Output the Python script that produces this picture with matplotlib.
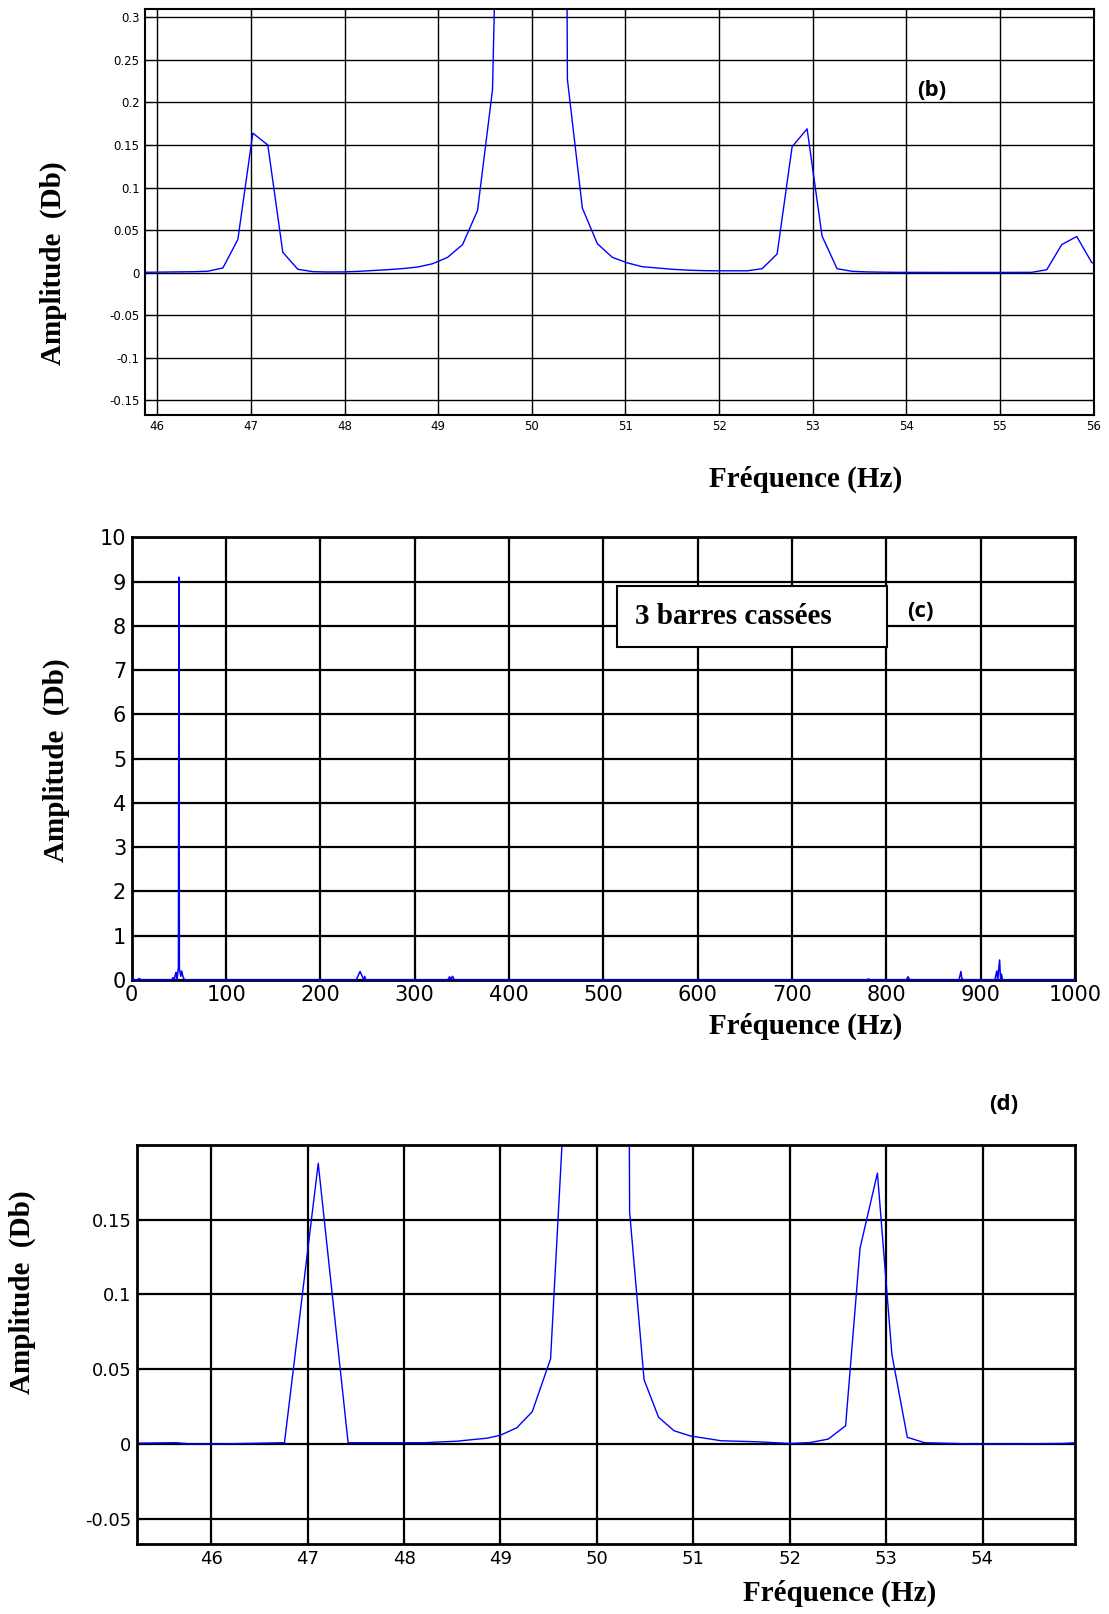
import matplotlib
matplotlib.use("Agg")
import matplotlib.pyplot as plt
from matplotlib.patches import Rectangle

# Panel (b) : zoom autour de 50 Hz
b_freq = [45.74, 45.90, 46.06, 46.22, 46.38, 46.54, 46.70, 46.86, 47.02, 47.18, 47.34,
          47.50, 47.66, 47.82, 47.98, 48.14, 48.30, 48.46, 48.62, 48.78, 48.94, 49.10,
          49.26, 49.42, 49.58, 49.74, 49.90, 50.06, 50.22, 50.38, 50.54, 50.70, 50.86,
          51.02, 51.18, 51.34, 51.50, 51.66, 51.82, 51.98, 52.14, 52.30, 52.46, 52.62,
          52.78, 52.94, 53.10, 53.26, 53.42, 53.58, 53.74, 53.90, 54.50, 55.00, 55.34,
          55.50, 55.66, 55.82, 55.98, 56.14]
b_amp = [0.0003, 0.0005, 0.0007, 0.0009, 0.0011, 0.0017, 0.0055, 0.039, 0.164, 0.150,
         0.024, 0.004, 0.0012, 0.0008, 0.0009, 0.0015, 0.0025, 0.0035, 0.0048, 0.0066,
         0.0105, 0.018, 0.033, 0.073, 0.215, 1.0, 5.0, 9.0, 4.0, 0.227, 0.0757, 0.034,
         0.018, 0.0115, 0.007, 0.0055, 0.004, 0.003, 0.0024, 0.0022, 0.0022, 0.0022,
         0.0047, 0.022, 0.148, 0.169, 0.043, 0.0047, 0.0016, 0.0009, 0.0006, 0.0004,
         0.0003, 0.0003, 0.0004, 0.0035, 0.033, 0.0425, 0.012, 0.005]
b_yticks = [-0.15, -0.1, -0.05, 0, 0.05, 0.1, 0.15, 0.2, 0.25, 0.3]
b_ylabels = ["-0.15", "-0.1", "-0.05", "0", "0.05", "0.1", "0.15", "0.2", "0.25", "0.3"]
b_xticks = [46, 47, 48, 49, 50, 51, 52, 53, 54, 55, 56]

# Panel (c) : spectre complet, 3 barres cassées
c_freq = [0, 6, 8, 10, 42, 44, 45, 46, 47, 48, 49.5, 50, 50.5, 52, 53, 54, 55, 57,
          238, 242, 246, 247, 248, 335, 337, 338, 340, 342, 779, 781, 783,
          821, 823, 824, 826, 877, 879, 880, 882, 915, 917, 918, 920, 921, 922, 923, 1000]
c_amp = [0, 0, 0.03, 0, 0, 0.05, 0, 0.1, 0.17, 0, 0.3, 9.1, 0.25, 0.08, 0.2, 0.1, 0.03, 0,
         0, 0.19, 0, 0.08, 0, 0, 0.07, 0, 0.08, 0, 0, 0.02, 0,
         0, 0.07, 0.02, 0, 0, 0.19, 0.03, 0, 0, 0.2, 0, 0.45, 0, 0.13, 0, 0]

# Panel (d) : zoom autour de 50 Hz
d_freq = [45.24, 45.64, 45.81, 46.20, 46.76, 47.11, 47.42, 48.22, 48.37, 48.55, 48.70,
          48.86, 49.00, 49.17, 49.33, 49.52, 49.68, 49.84, 50.00, 50.16, 50.34, 50.49,
          50.64, 50.80, 50.97, 51.29, 51.67, 52.00, 52.21, 52.40, 52.58, 52.73, 52.91,
          53.06, 53.22, 53.40, 54.00, 54.83, 54.98]
d_amp = [0.0007, 0.001, 0.0, 0.0003, 0.001, 0.1875, 0.001, 0.001, 0.0015, 0.002, 0.003,
         0.004, 0.006, 0.011, 0.0217, 0.057, 0.25, 2.5, 9.0, 3.0, 0.155, 0.043, 0.018,
         0.009, 0.0055, 0.0023, 0.0016, 0.0005, 0.0011, 0.0034, 0.0123, 0.131, 0.181,
         0.060, 0.0046, 0.001, 0.0, 0.0005, 0.001]
d_yticks = [-0.05, 0, 0.05, 0.1, 0.15]
d_ylabels = ["-0.05", "0", "0.05", "0.1", "0.15"]
d_xticks = [46, 47, 48, 49, 50, 51, 52, 53, 54]

serif = ["Liberation Serif", "DejaVu Serif"]
lab_font = dict(family=serif, fontweight="bold", fontsize=21)
tag_font = dict(family=["Open Sans", "DejaVu Sans"], fontweight="bold", fontsize=16)

fig = plt.figure(figsize=(11.09, 16.14), dpi=100)


def style(ax, grid_lw, spine_lw, tick_size):
    ax.grid(True, color="black", linewidth=grid_lw, linestyle="-")
    ax.set_axisbelow(True)
    for s in ax.spines.values():
        s.set_linewidth(spine_lw)
    ax.tick_params(direction="in", top=True, right=True, length=4,
                   labelsize=tick_size, pad=4)


# (b)
ax1 = fig.add_axes([0.1309, 0.7430, 0.8552, 0.2513])
ax1.plot(b_freq, b_amp, color="#0000ff", linewidth=1.0)
ax1.set_xlim(45.87, 56.0)
ax1.set_ylim(-0.167, 0.3096)
ax1.set_yticks(b_yticks)
ax1.set_yticklabels(b_ylabels)
ax1.set_xticks(b_xticks)
style(ax1, 1.0, 1.5, 8.5)
fig.text(0.048, 0.837, "Amplitude  (Db)", rotation=90, ha="center", va="center", **lab_font)
fig.text(0.726, 0.7028, "Fréquence (Hz)", ha="center", va="center", **lab_font)
fig.text(0.840, 0.9439, "(b)", ha="center", va="center", **tag_font)

# (c)
ax2 = fig.add_axes([0.1188, 0.3929, 0.8506, 0.2742])
ax2.plot(c_freq, c_amp, color="#0000ff", linewidth=1.1, zorder=3, clip_on=False)
ax2.set_xlim(0, 1000)
ax2.set_ylim(0, 10)
ax2.set_xticks(range(0, 1001, 100))
ax2.set_yticks(range(0, 11))
style(ax2, 1.6, 2.0, 15)
ax2.add_patch(Rectangle((514, 7.53), 287, 1.37, facecolor="white", edgecolor="black",
                        linewidth=1.5, zorder=4))
ax2.text(533, 8.2, "3 barres cassées", ha="left", va="center", zorder=5, **lab_font)
fig.text(0.726, 0.3642, "Fréquence (Hz)", ha="center", va="center", **lab_font)
fig.text(0.051, 0.5293, "Amplitude  (Db)", rotation=90, ha="center", va="center", **lab_font)
fig.text(0.830, 0.6212, "(c)", ha="center", va="center", **tag_font)

# (d)
ax3 = fig.add_axes([0.1235, 0.0434, 0.8459, 0.2474])
ax3.plot(d_freq, d_amp, color="#0000ff", linewidth=1.0)
ax3.set_xlim(45.23, 54.96)
ax3.set_ylim(-0.0666, 0.2)
ax3.set_yticks(d_yticks)
ax3.set_yticklabels(d_ylabels)
ax3.set_xticks(d_xticks)
style(ax3, 1.6, 2.0, 13)
fig.text(0.0204, 0.1996, "Amplitude  (Db)", rotation=90, ha="center", va="center", **lab_font)
fig.text(0.757, 0.01276, "Fréquence (Hz)", ha="center", va="center", **lab_font)
fig.text(0.905, 0.3157, "(d)", ha="center", va="center", **tag_font)

fig.savefig("out.png", dpi=100)
